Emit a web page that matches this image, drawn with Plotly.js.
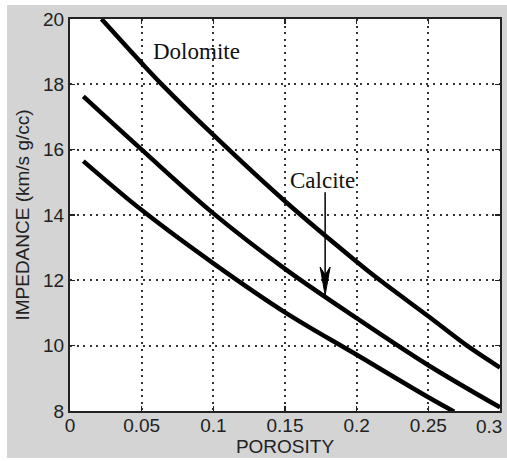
<!DOCTYPE html>
<html>
<head>
<meta charset="utf-8">
<script src="https://cdn.plot.ly/plotly-3.0.1.min.js"></script>
<style>
  html, body { margin: 0; padding: 0; background: #ffffff; width: 507px; height: 461px; overflow: hidden; }
  #chart { position: absolute; left: 7px; top: 5px; width: 500px; height: 453px; }
</style>
</head>
<body>
<div id="chart"></div>
<script>
// ---- data ----
const dolomiteX = [0.022, 0.05, 0.064, 0.10, 0.15, 0.20, 0.2163, 0.25, 0.277, 0.30];
const dolomiteY = [20.0, 18.65, 18.0, 16.45, 14.42, 12.57, 12.0, 10.9, 10.0, 9.33];

const calciteX = [0.0093, 0.05, 0.10, 0.15, 0.20, 0.25, 0.30];
const calciteY = [17.63, 16.0, 14.05, 12.35, 10.84, 9.4, 8.11];

const lowerX = [0.0093, 0.05, 0.10, 0.15, 0.20, 0.25, 0.268];
const lowerY = [15.65, 14.15, 12.52, 11.02, 9.72, 8.42, 7.98];

const xTickVals = [0, 0.05, 0.1, 0.15, 0.2, 0.25, 0.3];
const xTickText = ["0", "0.05", "0.1", "0.15", "0.2", "0.25", ""];
const xLastTickText = "0.3";   // drawn pulled inside the window, as in the reference
const yTickVals = [8, 10, 12, 14, 16, 18, 20];
const yTickText = ["8", "10", "12", "14", "16", "18", "20"];

const xTitle = "POROSITY";
const yTitle = "IMPEDANCE (km/s g/cc)";
const labelDolomite = {text: "Dolomite", x: 0.0884, y: 18.99};
const labelCalcite = {text: "Calcite", x: 0.1762, y: 15.07};
const arrow = {x: 0.178, yStart: 14.70, yEnd: 11.55};

// ---- chart ----
const lineStyle = {color: "#000000", width: 4.5, shape: "spline", smoothing: 1};
const traces = [
  {x: dolomiteX, y: dolomiteY, mode: "lines", line: lineStyle, name: "Dolomite", hoverinfo: "skip"},
  {x: calciteX, y: calciteY, mode: "lines", line: lineStyle, name: "Calcite", hoverinfo: "skip"},
  {x: lowerX, y: lowerY, mode: "lines", line: lineStyle, name: "Lower", hoverinfo: "skip"}
];

const fontSans = "Liberation Sans, Arial, sans-serif";
const tickFont = {family: fontSans, size: 19, color: "#222222"};
const axisCommon = {
  showline: true, linecolor: "#222222", linewidth: 2, mirror: "ticks",
  ticks: "inside", ticklen: 5, tickwidth: 1.5, tickcolor: "#222222",
  showgrid: true, gridcolor: "#333333", gridwidth: 2, griddash: "2px,4.6px",
  zeroline: false, tickfont: tickFont, automargin: false, fixedrange: true
};

// arrow head size in data units (approx 10px wide, 28px long)
const headHalfW = 5 / (430 / 0.3);
const headLen = 28 / (392 / 12);
const notch = 20 / (392 / 12);

const layout = {
  width: 500, height: 453,
  margin: {l: 63, r: 7, t: 14, b: 47},
  paper_bgcolor: "#d4d4d4",
  plot_bgcolor: "#ffffff",
  showlegend: false,
  xaxis: Object.assign({}, axisCommon, {
    range: [0, 0.3], tickmode: "array", tickvals: xTickVals, ticktext: xTickText,
    ticklabelstandoff: -4,
    title: {text: xTitle, font: {family: fontSans, size: 19, color: "#222222"}, standoff: 5}
  }),
  yaxis: Object.assign({}, axisCommon, {
    range: [8, 20], tickmode: "array", tickvals: yTickVals, ticktext: yTickText,
    title: {text: yTitle, font: {family: fontSans, size: 19, color: "#222222"}, standoff: 8}
  }),
  annotations: [
    {x: labelDolomite.x, y: labelDolomite.y, xref: "x", yref: "y", text: labelDolomite.text, showarrow: false,
     font: {family: "Liberation Serif, Times New Roman, serif", size: 23, color: "#111111"}},
    {x: labelCalcite.x, y: labelCalcite.y, xref: "x", yref: "y", text: labelCalcite.text, showarrow: false,
     font: {family: "Liberation Serif, Times New Roman, serif", size: 23, color: "#111111"}},
    {x: xTickVals[xTickVals.length - 1], y: 0, xref: "x", yref: "paper", text: xLastTickText, showarrow: false,
     xanchor: "right", yanchor: "top", xshift: 3, yshift: -4, borderpad: 0,
     font: tickFont}
  ],
  shapes: [
    {type: "line", xref: "x", yref: "y", x0: arrow.x, x1: arrow.x, y0: arrow.yStart, y1: arrow.yEnd + notch,
     line: {color: "#000000", width: 1.5}},
    {type: "path", xref: "x", yref: "y",
     path: "M " + arrow.x + " " + arrow.yEnd +
           " L " + (arrow.x - headHalfW) + " " + (arrow.yEnd + headLen) +
           " L " + arrow.x + " " + (arrow.yEnd + notch) +
           " L " + (arrow.x + headHalfW) + " " + (arrow.yEnd + headLen) + " Z",
     fillcolor: "#000000", line: {color: "#000000", width: 1}}
  ]
};

Plotly.newPlot("chart", traces, layout, {staticPlot: true, displayModeBar: false});
</script>
</body>
</html>
